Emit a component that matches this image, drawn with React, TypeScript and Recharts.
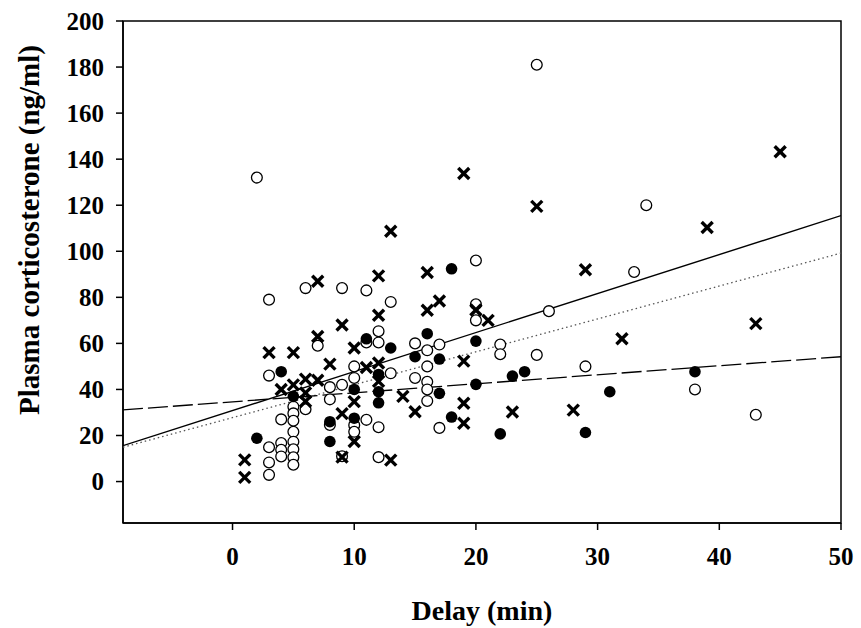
import { ScatterChart, Scatter, XAxis, YAxis, ReferenceArea, Label } from 'recharts';

// open circles
const openX = [2, 3, 6, 9, 7, 3, 4, 5, 5, 5, 5, 5, 5, 5, 5, 4, 4, 4, 3, 3, 3, 6, 8, 9, 8, 8, 9, 10, 10, 10, 10, 11, 12, 12, 13, 15, 16, 16, 16, 16, 17, 11, 13, 20, 20, 20, 26, 12, 11, 12, 15, 16, 17, 22, 22, 25, 25, 34, 33, 29, 38, 43];
const openY = [132, 79, 84, 84, 59, 46, 27, 32.5, 29.6, 26.4, 21.6, 17.3, 14, 10.5, 7.3, 16.7, 13.8, 10.9, 14.9, 8.3, 2.9, 31.4, 41, 42, 35.7, 24.6, 11, 50, 45, 24.5, 21.6, 26.8, 23.6, 10.6, 47, 45, 50, 43.3, 40, 35, 23.3, 83, 78, 96, 77, 70, 74, 65.3, 60.4, 60.4, 60, 57, 59.5, 59.5, 55.3, 55, 181, 120, 91, 50, 40, 29];

// filled circles
const filledX = [2, 4, 5, 8, 8, 10, 10, 11, 12, 12, 12, 13, 15, 16, 17, 17, 18, 18, 20, 20, 22, 23, 24, 29, 31, 38];
const filledY = [18.8, 47.7, 37, 26, 17.4, 40, 27.5, 62, 46.5, 39, 34.2, 58, 54.2, 64.2, 53.2, 38.3, 92.4, 28, 61, 42.2, 20.7, 45.8, 47.7, 21.3, 39, 47.7];

// crosses
const crossX = [1, 1, 3, 5, 7, 9, 7, 8, 4, 5, 6, 7, 6, 6, 9, 9, 10, 11, 12, 12, 10, 10, 13, 14, 15, 19, 19, 23, 28, 25, 13, 12, 16, 17, 16, 20, 21, 12, 19, 19, 29, 32, 43, 39, 45];
const crossY = [9.4, 1.8, 56, 56, 87, 68, 63, 51, 40, 42, 44.5, 44, 38.5, 34.8, 29.5, 10.6, 58, 49.5, 51.5, 43.5, 34.7, 17.4, 9.3, 37, 30.3, 34, 25.3, 30.2, 31, 119.5, 108.7, 89.3, 90.8, 78.4, 74.4, 74.5, 70, 72.2, 52.3, 133.8, 92, 62, 68.6, 110.3, 143.2];

// regression lines, ends read at the plot edges
const lineX = [-9, 50];
const solidY = [15.6, 115.5];
const dottedY = [14.9, 99.2];
const dashedY = [31.1, 54.2];

const xTicks = [0, 10, 20, 30, 40, 50];
const yTicks = [0, 20, 40, 60, 80, 100, 120, 140, 160, 180, 200];

const zip = (xs: number[], ys: number[]) => xs.map((x, i) => ({ x, y: ys[i] }));

const openData = zip(openX, openY);
const filledData = zip(filledX, filledY);
const crossData = zip(crossX, crossY);
const solidData = zip(lineX, solidY);
const dottedData = zip(lineX, dottedY);
const dashedData = zip(lineX, dashedY);

const font = '"Liberation Serif", "Times New Roman", serif';

const OpenDot = (p: any) => <circle cx={p.cx} cy={p.cy} r={5.4} fill="#fff" stroke="#000" strokeWidth={1.3} />;
const FilledDot = (p: any) => <circle cx={p.cx} cy={p.cy} r={5.8} fill="#000" />;
const Cross = (p: any) => {
    const s = 5.5;
    return (
        <g stroke="#000" strokeWidth={3.4}>
            <line x1={p.cx - s} y1={p.cy - s} x2={p.cx + s} y2={p.cy + s} />
            <line x1={p.cx - s} y1={p.cy + s} x2={p.cx + s} y2={p.cy - s} />
        </g>
    );
};
const NoDot = () => <g />;

export default function App() {
    const tickStyle = { fontSize: 25, fontWeight: 'bold', fill: '#000', fontFamily: font };
    return (
        <div style={{ position: 'absolute', left: 0, top: 0 }}>
            <ScatterChart width={861} height={628} margin={{ top: 21, right: 20, left: 0, bottom: 0 }}>
                <XAxis
                    type="number"
                    dataKey="x"
                    domain={[-9, 50]}
                    ticks={xTicks}
                    allowDataOverflow
                    height={105}
                    stroke="#000"
                    strokeWidth={1.5}
                    tickSize={7}
                    tickMargin={17}
                    tick={tickStyle}
                >
                    <Label
                        value="Delay (min)"
                        position="insideBottom"
                        offset={8}
                        style={{ fontSize: 28, fontWeight: 'bold', fill: '#000', fontFamily: font }}
                    />
                </XAxis>
                <YAxis
                    type="number"
                    dataKey="y"
                    domain={[-18, 200]}
                    ticks={yTicks}
                    allowDataOverflow
                    width={123}
                    stroke="#000"
                    strokeWidth={1.5}
                    tickSize={7}
                    tickMargin={12}
                    tick={tickStyle}
                >
                    <Label
                        value="Plasma corticosterone (ng/ml)"
                        angle={-90}
                        position="insideLeft"
                        offset={29}
                        dy={-42}
                        style={{ fontSize: 29, fontWeight: 'bold', fill: '#000', fontFamily: font, textAnchor: 'middle' }}
                    />
                </YAxis>
                <ReferenceArea x1={-9} x2={50} y1={-18} y2={200} fill="none" stroke="#000" strokeWidth={1.5} />
                <Scatter data={solidData} line={{ stroke: '#000', strokeWidth: 1.4 }} shape={NoDot} isAnimationActive={false} />
                <Scatter data={dottedData} line={{ stroke: '#555', strokeWidth: 1.3, strokeDasharray: '1.5 3' }} shape={NoDot} isAnimationActive={false} />
                <Scatter data={dashedData} line={{ stroke: '#000', strokeWidth: 1.3, strokeDasharray: '20 5' }} shape={NoDot} isAnimationActive={false} />
                <Scatter data={openData} shape={OpenDot} isAnimationActive={false} />
                <Scatter data={filledData} shape={FilledDot} isAnimationActive={false} />
                <Scatter data={crossData} shape={Cross} isAnimationActive={false} />
            </ScatterChart>
        </div>
    );
}
